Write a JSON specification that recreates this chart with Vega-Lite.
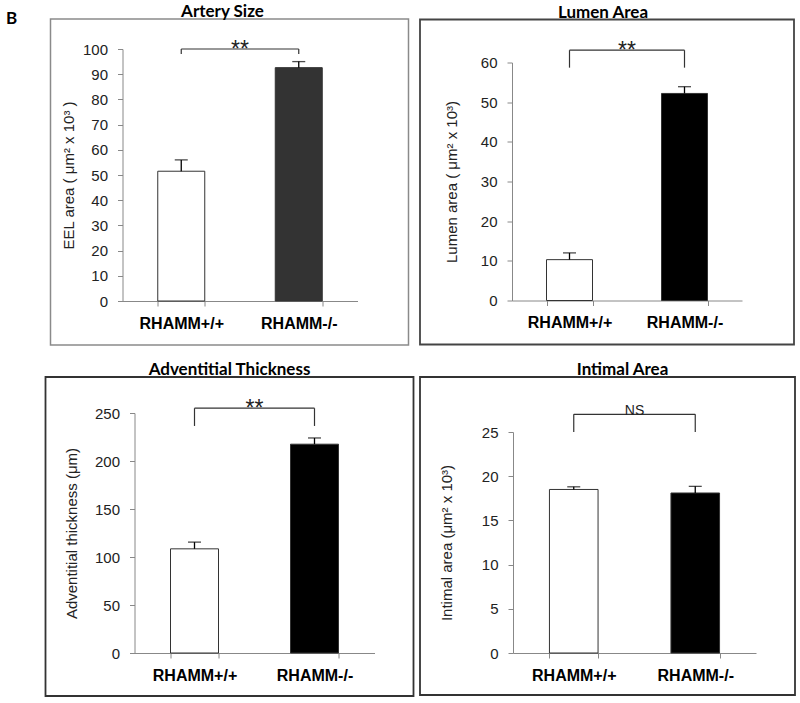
{
  "$schema": "https://vega.github.io/schema/vega-lite/v6.json",
  "background": "white",
  "padding": {"left": 6, "top": 2, "right": 5, "bottom": 5},
  "title": {"text": "B", "anchor": "start", "frame": "bounds", "offset": 0, "dx": -36, "dy": 39, "font": "Lato", "fontSize": 17, "fontWeight": "bold", "color": "black", "baseline": "alphabetic"},
  "datasets": {
    "bars": [
      {"panel": "A", "group": "RHAMM+/+", "mean": 51.5, "upper": 56.0},
      {"panel": "A", "group": "RHAMM-/-", "mean": 92.6, "upper": 95.0},
      {"panel": "B", "group": "RHAMM+/+", "mean": 10.3, "upper": 12.0},
      {"panel": "B", "group": "RHAMM-/-", "mean": 52.2, "upper": 53.9},
      {"panel": "C", "group": "RHAMM+/+", "mean": 108.5, "upper": 115.5},
      {"panel": "C", "group": "RHAMM-/-", "mean": 217.5, "upper": 224.0},
      {"panel": "D", "group": "RHAMM+/+", "mean": 18.5, "upper": 18.8},
      {"panel": "D", "group": "RHAMM-/-", "mean": 18.1, "upper": 18.85}
    ],
    "brackets": [
      {"panel": "A", "g1": "RHAMM+/+", "g2": "RHAMM-/-", "top": 100, "bottom": 98, "label": "**"},
      {"panel": "B", "g1": "RHAMM+/+", "g2": "RHAMM-/-", "top": 63.1, "bottom": 58.7, "label": "**"},
      {"panel": "C", "g1": "RHAMM+/+", "g2": "RHAMM-/-", "top": 255, "bottom": 236.5, "label": "**"},
      {"panel": "D", "g1": "RHAMM+/+", "g2": "RHAMM-/-", "top": 27, "bottom": 25, "label": "NS"}
    ]
  },
  "config": {
    "title": {"font": "Lato", "fontSize": 17, "fontWeight": "bold", "color": "black", "baseline": "alphabetic", "offset": 3, "dy": 5},
    "axis": {"domainColor": "#888", "tickColor": "#888", "tickSize": 5, "grid": false, "labelFont": "Liberation Sans", "titleFont": "Liberation Sans"},
    "axisX": {"labelFontSize": 16, "labelFontWeight": "bold", "labelColor": "black", "labelPadding": 9, "labelAngle": 0, "tickBand": "extent"},
    "axisY": {"labelFontSize": 15, "labelColor": "#222", "labelPadding": 10, "labelOverlap": false, "tickCount": 11, "titleFontSize": 15, "titleFontWeight": "normal", "titleColor": "#222"}
  },
  "resolve": {"scale": {"x": "independent", "y": "independent", "fill": "independent"}},
  "columns": 2,
  "bounds": "flush",
  "align": "all",
  "center": true,
  "spacing": {"row": 32, "column": 3},
  "concat": [
    {
      "width": 358, "height": 326,
      "view": {"stroke": "#8a8a8a", "strokeWidth": 1.5},
      "title": {"text": "Artery Size", "dx": -7},
      "layer": [
        {
          "data": {"name": "bars"}, "transform": [{"filter": "datum.panel === 'A'"}],
          "mark": {"type": "bar", "stroke": "#333", "strokeWidth": 1},
          "encoding": {
            "x": {"field": "group", "type": "nominal", "scale": {"domain": ["RHAMM+/+", "RHAMM-/-"], "range": [72, 307], "paddingInner": 0.6, "paddingOuter": 0.3}, "axis": {"title": null, "offset": -44}},
            "y": {"field": "mean", "type": "quantitative", "scale": {"domain": [0, 100], "range": [282, 30], "nice": false}, "axis": {"title": "EEL area ( μm² x 10³ )", "values": [0, 10, 20, 30, 40, 50, 60, 70, 80, 90, 100], "tickCount": 11, "labelOverlap": false, "offset": -72, "titlePadding": 6}},
            "fill": {"field": "group", "type": "nominal", "scale": {"domain": ["RHAMM+/+", "RHAMM-/-"], "range": ["white", "#333333"]}, "legend": null}
          }
        },
        {
          "data": {"name": "bars"}, "transform": [{"filter": "datum.panel === 'A'"}],
          "mark": {"type": "rule", "color": "black", "strokeWidth": 1.3},
          "encoding": {"x": {"field": "group", "type": "nominal"}, "y": {"field": "mean", "type": "quantitative"}, "y2": {"field": "upper"}}
        },
        {
          "data": {"name": "bars"}, "transform": [{"filter": "datum.panel === 'A'"}],
          "mark": {"type": "tick", "color": "black", "size": 13, "thickness": 1.3},
          "encoding": {"x": {"field": "group", "type": "nominal"}, "y": {"field": "upper", "type": "quantitative"}}
        },
        {
          "data": {"name": "brackets"}, "transform": [{"filter": "datum.panel === 'A'"}],
          "mark": {"type": "rule", "color": "#333", "strokeWidth": 1.2},
          "encoding": {"x": {"field": "g1", "type": "nominal"}, "x2": {"field": "g2"}, "y": {"field": "top", "type": "quantitative"}}
        },
        {
          "data": {"name": "brackets"}, "transform": [{"filter": "datum.panel === 'A'"}],
          "mark": {"type": "rule", "color": "#333", "strokeWidth": 1.2},
          "encoding": {"x": {"field": "g1", "type": "nominal"}, "y": {"field": "top", "type": "quantitative"}, "y2": {"field": "bottom"}}
        },
        {
          "data": {"name": "brackets"}, "transform": [{"filter": "datum.panel === 'A'"}],
          "mark": {"type": "rule", "color": "#333", "strokeWidth": 1.2},
          "encoding": {"x": {"field": "g2", "type": "nominal"}, "y": {"field": "top", "type": "quantitative"}, "y2": {"field": "bottom"}}
        },
        {
          "data": {"name": "brackets"}, "transform": [{"filter": "datum.panel === 'A'"}],
          "mark": {"type": "text", "font": "Liberation Sans", "fontSize": 23, "baseline": "alphabetic", "dy": 8, "color": "#222"},
          "encoding": {"x": {"field": "g1", "type": "nominal", "bandPosition": 1.75}, "y": {"field": "top", "type": "quantitative"}, "text": {"field": "label"}}
        }
      ]
    },
    {
      "width": 374, "height": 325,
      "view": {"stroke": "#444", "strokeWidth": 1.8},
      "title": {"text": "Lumen Area", "dx": -4},
      "layer": [
        {
          "data": {"name": "bars"}, "transform": [{"filter": "datum.panel === 'B'"}],
          "mark": {"type": "bar", "stroke": "#333", "strokeWidth": 1},
          "encoding": {
            "x": {"field": "group", "type": "nominal", "scale": {"domain": ["RHAMM+/+", "RHAMM-/-"], "range": [92, 322], "paddingInner": 0.6, "paddingOuter": 0.3}, "axis": {"title": null, "offset": -44}},
            "y": {"field": "mean", "type": "quantitative", "scale": {"domain": [0, 60], "range": [281, 43], "nice": false}, "axis": {"title": "Lumen area ( μm² x 10³)", "values": [0, 10, 20, 30, 40, 50, 60], "tickCount": 11, "labelOverlap": false, "offset": -92, "titlePadding": 21}},
            "fill": {"field": "group", "type": "nominal", "scale": {"domain": ["RHAMM+/+", "RHAMM-/-"], "range": ["white", "black"]}, "legend": null}
          }
        },
        {
          "data": {"name": "bars"}, "transform": [{"filter": "datum.panel === 'B'"}],
          "mark": {"type": "rule", "color": "black", "strokeWidth": 1.3},
          "encoding": {"x": {"field": "group", "type": "nominal"}, "y": {"field": "mean", "type": "quantitative"}, "y2": {"field": "upper"}}
        },
        {
          "data": {"name": "bars"}, "transform": [{"filter": "datum.panel === 'B'"}],
          "mark": {"type": "tick", "color": "black", "size": 13, "thickness": 1.3},
          "encoding": {"x": {"field": "group", "type": "nominal"}, "y": {"field": "upper", "type": "quantitative"}}
        },
        {
          "data": {"name": "brackets"}, "transform": [{"filter": "datum.panel === 'B'"}],
          "mark": {"type": "rule", "color": "#333", "strokeWidth": 1.2},
          "encoding": {"x": {"field": "g1", "type": "nominal"}, "x2": {"field": "g2"}, "y": {"field": "top", "type": "quantitative"}}
        },
        {
          "data": {"name": "brackets"}, "transform": [{"filter": "datum.panel === 'B'"}],
          "mark": {"type": "rule", "color": "#333", "strokeWidth": 1.2},
          "encoding": {"x": {"field": "g1", "type": "nominal"}, "y": {"field": "top", "type": "quantitative"}, "y2": {"field": "bottom"}}
        },
        {
          "data": {"name": "brackets"}, "transform": [{"filter": "datum.panel === 'B'"}],
          "mark": {"type": "rule", "color": "#333", "strokeWidth": 1.2},
          "encoding": {"x": {"field": "g2", "type": "nominal"}, "y": {"field": "top", "type": "quantitative"}, "y2": {"field": "bottom"}}
        },
        {
          "data": {"name": "brackets"}, "transform": [{"filter": "datum.panel === 'B'"}],
          "mark": {"type": "text", "font": "Liberation Sans", "fontSize": 23, "baseline": "alphabetic", "dy": 8, "color": "#222"},
          "encoding": {"x": {"field": "g1", "type": "nominal", "bandPosition": 1.75}, "y": {"field": "top", "type": "quantitative"}, "text": {"field": "label"}}
        }
      ]
    },
    {
      "width": 368, "height": 319,
      "view": {"stroke": "#333", "strokeWidth": 1.8},
      "title": {"text": "Adventitial Thickness"},
      "layer": [
        {
          "data": {"name": "bars"}, "transform": [{"filter": "datum.panel === 'C'"}],
          "mark": {"type": "bar", "stroke": "#333", "strokeWidth": 1},
          "encoding": {
            "x": {"field": "group", "type": "nominal", "scale": {"domain": ["RHAMM+/+", "RHAMM-/-"], "range": [89, 329], "paddingInner": 0.6, "paddingOuter": 0.3}, "axis": {"title": null, "offset": -43}},
            "y": {"field": "mean", "type": "quantitative", "scale": {"domain": [0, 250], "range": [276, 36], "nice": false}, "axis": {"title": "Adventitial thickness (μm)", "values": [0, 50, 100, 150, 200, 250], "tickCount": 11, "labelOverlap": false, "offset": -89, "titlePadding": 15}},
            "fill": {"field": "group", "type": "nominal", "scale": {"domain": ["RHAMM+/+", "RHAMM-/-"], "range": ["white", "black"]}, "legend": null}
          }
        },
        {
          "data": {"name": "bars"}, "transform": [{"filter": "datum.panel === 'C'"}],
          "mark": {"type": "rule", "color": "black", "strokeWidth": 1.3},
          "encoding": {"x": {"field": "group", "type": "nominal"}, "y": {"field": "mean", "type": "quantitative"}, "y2": {"field": "upper"}}
        },
        {
          "data": {"name": "bars"}, "transform": [{"filter": "datum.panel === 'C'"}],
          "mark": {"type": "tick", "color": "black", "size": 13, "thickness": 1.3},
          "encoding": {"x": {"field": "group", "type": "nominal"}, "y": {"field": "upper", "type": "quantitative"}}
        },
        {
          "data": {"name": "brackets"}, "transform": [{"filter": "datum.panel === 'C'"}],
          "mark": {"type": "rule", "color": "#333", "strokeWidth": 1.2},
          "encoding": {"x": {"field": "g1", "type": "nominal"}, "x2": {"field": "g2"}, "y": {"field": "top", "type": "quantitative"}}
        },
        {
          "data": {"name": "brackets"}, "transform": [{"filter": "datum.panel === 'C'"}],
          "mark": {"type": "rule", "color": "#333", "strokeWidth": 1.2},
          "encoding": {"x": {"field": "g1", "type": "nominal"}, "y": {"field": "top", "type": "quantitative"}, "y2": {"field": "bottom"}}
        },
        {
          "data": {"name": "brackets"}, "transform": [{"filter": "datum.panel === 'C'"}],
          "mark": {"type": "rule", "color": "#333", "strokeWidth": 1.2},
          "encoding": {"x": {"field": "g2", "type": "nominal"}, "y": {"field": "top", "type": "quantitative"}, "y2": {"field": "bottom"}}
        },
        {
          "data": {"name": "brackets"}, "transform": [{"filter": "datum.panel === 'C'"}],
          "mark": {"type": "text", "font": "Liberation Sans", "fontSize": 23, "baseline": "alphabetic", "dy": 8, "color": "#222"},
          "encoding": {"x": {"field": "g1", "type": "nominal", "bandPosition": 1.75}, "y": {"field": "top", "type": "quantitative"}, "text": {"field": "label"}}
        }
      ]
    },
    {
      "width": 375, "height": 318,
      "view": {"stroke": "#333", "strokeWidth": 1.8},
      "title": {"text": "Intimal Area", "dx": 15},
      "layer": [
        {
          "data": {"name": "bars"}, "transform": [{"filter": "datum.panel === 'D'"}],
          "mark": {"type": "bar", "stroke": "#333", "strokeWidth": 1},
          "encoding": {
            "x": {"field": "group", "type": "nominal", "scale": {"domain": ["RHAMM+/+", "RHAMM-/-"], "range": [93, 336], "paddingInner": 0.6, "paddingOuter": 0.3}, "axis": {"title": null, "offset": -42}},
            "y": {"field": "mean", "type": "quantitative", "scale": {"domain": [0, 25], "range": [276, 55], "nice": false}, "axis": {"title": "Intimal area (μm² x 10³)", "values": [0, 5, 10, 15, 20, 25], "tickCount": 11, "labelOverlap": false, "offset": -93, "titlePadding": 27}},
            "fill": {"field": "group", "type": "nominal", "scale": {"domain": ["RHAMM+/+", "RHAMM-/-"], "range": ["white", "black"]}, "legend": null}
          }
        },
        {
          "data": {"name": "bars"}, "transform": [{"filter": "datum.panel === 'D'"}],
          "mark": {"type": "rule", "color": "black", "strokeWidth": 1.3},
          "encoding": {"x": {"field": "group", "type": "nominal"}, "y": {"field": "mean", "type": "quantitative"}, "y2": {"field": "upper"}}
        },
        {
          "data": {"name": "bars"}, "transform": [{"filter": "datum.panel === 'D'"}],
          "mark": {"type": "tick", "color": "black", "size": 13, "thickness": 1.3},
          "encoding": {"x": {"field": "group", "type": "nominal"}, "y": {"field": "upper", "type": "quantitative"}}
        },
        {
          "data": {"name": "brackets"}, "transform": [{"filter": "datum.panel === 'D'"}],
          "mark": {"type": "rule", "color": "#333", "strokeWidth": 1.2},
          "encoding": {"x": {"field": "g1", "type": "nominal"}, "x2": {"field": "g2"}, "y": {"field": "top", "type": "quantitative"}}
        },
        {
          "data": {"name": "brackets"}, "transform": [{"filter": "datum.panel === 'D'"}],
          "mark": {"type": "rule", "color": "#333", "strokeWidth": 1.2},
          "encoding": {"x": {"field": "g1", "type": "nominal"}, "y": {"field": "top", "type": "quantitative"}, "y2": {"field": "bottom"}}
        },
        {
          "data": {"name": "brackets"}, "transform": [{"filter": "datum.panel === 'D'"}],
          "mark": {"type": "rule", "color": "#333", "strokeWidth": 1.2},
          "encoding": {"x": {"field": "g2", "type": "nominal"}, "y": {"field": "top", "type": "quantitative"}, "y2": {"field": "bottom"}}
        },
        {
          "data": {"name": "brackets"}, "transform": [{"filter": "datum.panel === 'D'"}],
          "mark": {"type": "text", "font": "Liberation Sans", "fontSize": 14, "baseline": "alphabetic", "dy": 0.5, "color": "#222"},
          "encoding": {"x": {"field": "g1", "type": "nominal", "bandPosition": 1.75}, "y": {"field": "top", "type": "quantitative"}, "text": {"field": "label"}}
        }
      ]
    }
  ]
}
